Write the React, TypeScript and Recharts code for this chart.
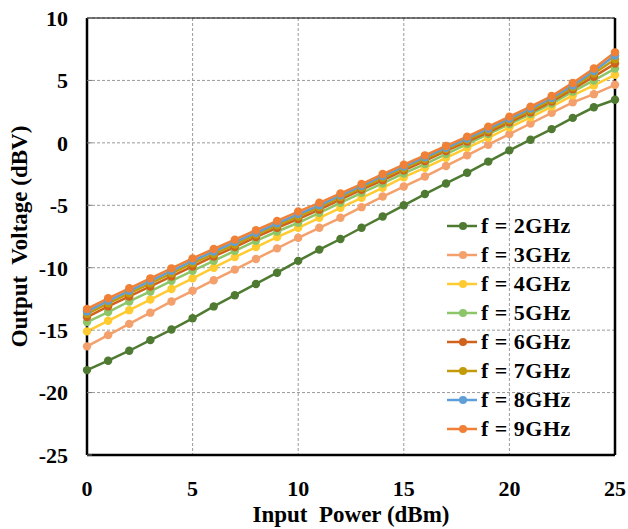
import { LineChart, Line, XAxis, YAxis, CartesianGrid, Legend, Label, ReferenceLine } from 'recharts';

const inputPower = [0, 1, 2, 3, 4, 5, 6, 7, 8, 9, 10, 11, 12, 13, 14, 15, 16, 17, 18, 19, 20, 21, 22, 23, 24, 25];

const f2 = [-18.2, -17.45, -16.65, -15.8, -14.95, -14.05, -13.1, -12.2, -11.3, -10.4, -9.45, -8.55, -7.7, -6.8, -5.9, -5.0, -4.1, -3.25, -2.4, -1.5, -0.6, 0.25, 1.1, 2.0, 2.85, 3.45];
const f3 = [-16.3, -15.4, -14.5, -13.6, -12.7, -11.85, -11.0, -10.15, -9.3, -8.45, -7.6, -6.8, -6.0, -5.15, -4.3, -3.5, -2.7, -1.85, -1.0, -0.15, 0.7, 1.55, 2.4, 3.25, 3.9, 4.65];
const f4 = [-15.1, -14.25, -13.4, -12.55, -11.7, -10.85, -10.0, -9.15, -8.35, -7.55, -6.8, -6.0, -5.2, -4.4, -3.6, -2.75, -2.0, -1.2, -0.4, 0.4, 1.25, 2.05, 2.9, 3.8, 4.6, 5.45];
const f5 = [-14.35, -13.55, -12.7, -11.9, -11.05, -10.25, -9.45, -8.65, -7.85, -7.1, -6.4, -5.6, -4.8, -4.0, -3.25, -2.45, -1.7, -0.9, -0.1, 0.7, 1.5, 2.3, 3.15, 4.1, 5.0, 5.95];
const f6 = [-13.95, -13.1, -12.3, -11.5, -10.7, -9.9, -9.1, -8.35, -7.55, -6.8, -6.1, -5.35, -4.55, -3.75, -3.0, -2.2, -1.45, -0.65, 0.1, 0.85, 1.65, 2.45, 3.3, 4.3, 5.3, 6.35];
const f7 = [-13.7, -12.85, -12.05, -11.25, -10.45, -9.65, -8.9, -8.15, -7.35, -6.6, -5.9, -5.15, -4.35, -3.6, -2.8, -2.05, -1.3, -0.5, 0.25, 1.0, 1.8, 2.6, 3.45, 4.45, 5.55, 6.7];
const f8 = [-13.5, -12.65, -11.85, -11.05, -10.25, -9.45, -8.7, -7.95, -7.2, -6.45, -5.7, -5.0, -4.2, -3.45, -2.65, -1.9, -1.15, -0.4, 0.35, 1.15, 1.95, 2.75, 3.6, 4.6, 5.75, 7.0];
const f9 = [-13.3, -12.45, -11.65, -10.85, -10.05, -9.25, -8.5, -7.75, -7.0, -6.25, -5.5, -4.8, -4.05, -3.3, -2.5, -1.75, -1.0, -0.25, 0.5, 1.3, 2.1, 2.9, 3.75, 4.8, 5.95, 7.25];

const xTicks = [0, 5, 10, 15, 20, 25];
const yTicks = [-25, -20, -15, -10, -5, 0, 5, 10];

const series = [
  { key: 'f2', name: 'f = 2GHz', values: f2, color: '#4f7a32' },
  { key: 'f3', name: 'f = 3GHz', values: f3, color: '#f4a06c' },
  { key: 'f4', name: 'f = 4GHz', values: f4, color: '#ffcb30' },
  { key: 'f5', name: 'f = 5GHz', values: f5, color: '#8dc569' },
  { key: 'f6', name: 'f = 6GHz', values: f6, color: '#d0621c' },
  { key: 'f7', name: 'f = 7GHz', values: f7, color: '#c29a0a' },
  { key: 'f8', name: 'f = 8GHz', values: f8, color: '#5f9fd8' },
  { key: 'f9', name: 'f = 9GHz', values: f9, color: '#f08035' },
];

const data = inputPower.map((p, i) => {
  const row: Record<string, number> = { p };
  series.forEach((s) => { row[s.key] = s.values[i]; });
  return row;
});

const font = '"Liberation Serif", "Times New Roman", serif';
const tickStyle = { fill: '#000', fontFamily: font, fontWeight: 'bold', fontSize: 22 };
const titleStyle = { fill: '#000', fontFamily: font, fontWeight: 'bold', fontSize: 23 };

function LegendBox() {
  return (
    <div style={{ fontFamily: font, fontWeight: 'bold', fontSize: 22, letterSpacing: 0.5, color: '#000' }}>
      {series.map((s) => (
        <div key={s.key} style={{ display: 'flex', alignItems: 'center', height: 29.1 }}>
          <svg width={32} height={12} style={{ marginRight: 2 }}>
            <line x1={0} y1={6} x2={30} y2={6} stroke={s.color} strokeWidth={2.5} />
            <circle cx={16} cy={6} r={4} fill={s.color} />
          </svg>
          <span style={{ whiteSpace: 'pre' }}>{s.name}</span>
        </div>
      ))}
    </div>
  );
}

function App() {
  return (
    <div style={{ position: 'absolute', left: 0, top: 0 }}>
      <LineChart width={628} height={529} data={data} margin={{ top: 18, right: 13, bottom: 0, left: 0 }}>
        <CartesianGrid stroke="#9a9a9a" strokeDasharray="3 2" strokeWidth={1} />
        <XAxis
          dataKey="p"
          type="number"
          domain={[0, 25]}
          ticks={xTicks}
          height={74}
          axisLine={{ stroke: '#000', strokeWidth: 2.5 }}
          tickLine={false}
          tickMargin={19}
          tick={tickStyle}
        >
          <Label value={'Input\u00a0 Power (dBm)'} position="center" dy={22} style={titleStyle} />
        </XAxis>
        <YAxis
          type="number"
          domain={[-25, 10]}
          ticks={yTicks}
          width={87}
          allowDataOverflow
          axisLine={{ stroke: '#000', strokeWidth: 2.5 }}
          tickSize={-5}
          tickLine={{ stroke: '#777' }}
          tickMargin={24}
          tick={tickStyle}
        >
          <Label value={'Output\u00a0 Voltage (dBV)'} angle={-90} position="center" dx={-25} style={titleStyle} />
        </YAxis>
        <ReferenceLine y={10} stroke="#000" strokeWidth={1.2} />
        <ReferenceLine x={25} stroke="#000" strokeWidth={2.5} />
        {series.map((s) => (
          <Line
            key={s.key}
            dataKey={s.key}
            name={s.name}
            stroke={s.color}
            strokeWidth={2.5}
            dot={{ r: 4.2, fill: s.color, stroke: s.color, strokeWidth: 0 }}
            isAnimationActive={false}
          />
        ))}
        <Legend
          content={<LegendBox />}
          layout="horizontal"
          verticalAlign="middle"
          align="center"
          wrapperStyle={{ left: 447, top: 211, width: 170 }}
        />
      </LineChart>
    </div>
  );
}

export default App;
